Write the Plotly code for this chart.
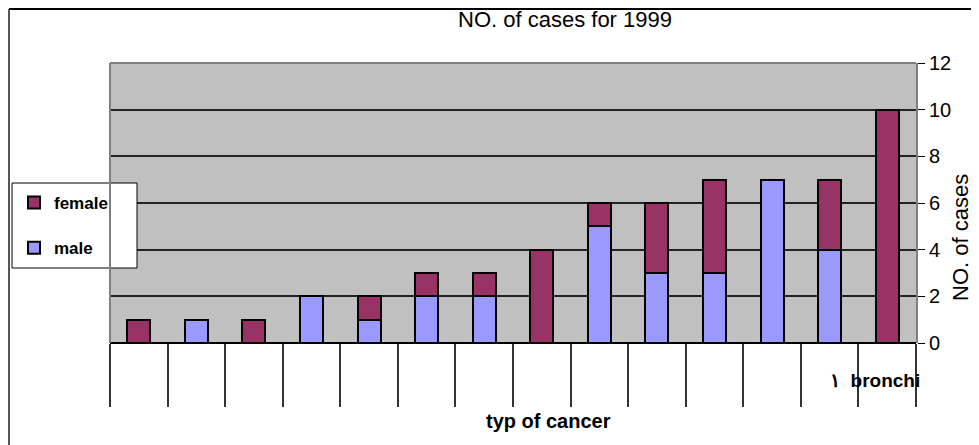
import plotly.graph_objects as go

# 14 cancer types; only the last label is visible in the source chart
categories = ["", "", "", "", "", "", "", "", "", "", "", "", "", "\u0661  bronchi"]
male = [0, 1, 0, 2, 1, 2, 2, 0, 5, 3, 3, 7, 4, 0]
female = [1, 0, 1, 0, 1, 1, 1, 4, 1, 3, 4, 0, 3, 10]
y_ticks = [0, 2, 4, 6, 8, 10, 12]

n = len(categories)
pos = list(range(n))

# the page body adds an 8px margin, so the figure is shrunk by that much
OFF = 8
W, H = 979 - OFF, 445 - OFF
# plot area in reference pixels (left, top, right, bottom)
L, T, R, B = 110, 63, 916, 343
pw, ph = R - L, B - T

def px_x(x):
    return (x - L) / pw

def px_y(y):
    return (B - y) / ph

bar_line = dict(color="black", width=2)

male_trace = go.Bar(
    x=pos, y=male, name="male",
    marker=dict(color="#9999FF", line=bar_line),
    width=0.4, legendgroup="m", legendrank=2,
)
female_trace = go.Bar(
    x=pos, y=female, name="female",
    marker=dict(color="#993366", line=bar_line),
    width=0.4, legendgroup="f", legendrank=1,
)

fig = go.Figure(data=[male_trace, female_trace])

shapes = [
    # legend box
    dict(type="rect", xref="paper", yref="paper",
         x0=px_x(12), x1=px_x(137), y0=px_y(268), y1=px_y(183),
         fillcolor="white", line=dict(color="black", width=1), layer="above"),
    # outer border (left and top)
    dict(type="line", xref="paper", yref="paper",
         x0=px_x(9), x1=px_x(9), y0=px_y(445), y1=px_y(9),
         line=dict(color="#555555", width=2)),
    dict(type="line", xref="paper", yref="paper",
         x0=px_x(9), x1=px_x(979), y0=px_y(9), y1=px_y(9),
         line=dict(color="black", width=2)),
    # plot area top / left border
    dict(type="line", xref="paper", yref="paper",
         x0=0, x1=1, y0=1, y1=1, line=dict(color="#808080", width=2)),
    dict(type="line", xref="paper", yref="paper",
         x0=0, x1=0, y0=0, y1=1, line=dict(color="#808080", width=2)),
]

annotations = [
    dict(text="NO. of cases", textangle=-90, xref="paper", yref="paper",
         x=px_x(960), y=px_y(238), xanchor="center", yanchor="middle",
         showarrow=False, font=dict(size=22, color="black")),
    dict(text="typ of cancer", xref="paper", yref="paper",
         x=px_x(548), y=px_y(421), xanchor="center", yanchor="middle",
         showarrow=False, font=dict(size=20, color="black", weight="bold")),
    dict(text=categories[-1], xref="paper", yref="paper",
         x=px_x(828), y=px_y(380), xanchor="left", yanchor="middle",
         showarrow=False, font=dict(size=19, color="black", weight="bold")),
]

fig.update_layout(
    width=W, height=H,
    margin=dict(l=L - OFF, r=979 - R, t=T - OFF, b=445 - B, autoexpand=False),
    barmode="stack",
    paper_bgcolor="white",
    plot_bgcolor="#C0C0C0",
    font=dict(family="Liberation Sans, Arial, sans-serif", color="black"),
    title=dict(text="NO. of cases for 1999", x=(565 - OFF) / W, xanchor="center",
               y=1 - (19 - OFF) / H, yanchor="middle", xref="container",
               font=dict(size=22, color="black")),
    showlegend=True,
    legend=dict(x=px_x(14), y=px_y(185), xanchor="left", yanchor="top",
                bgcolor="rgba(0,0,0,0)", borderwidth=0,
                traceorder="grouped",
                tracegroupgap=20, itemwidth=30,
                font=dict(size=17, color="black", weight="bold")),
    shapes=shapes,
    annotations=annotations,
    bargap=0.6,
)

fig.update_xaxes(
    range=[-0.5, n - 0.5],
    tickmode="array",
    tickvals=[p - 0.5 for p in pos] + [n - 0.5],
    ticktext=[""] * (n + 1),
    ticks="outside", ticklen=63, tickcolor="#333333", tickwidth=2,
    showgrid=False, zeroline=False, showline=False,
)

fig.update_yaxes(
    side="right",
    range=[0, 12],
    tickvals=y_ticks,
    ticks="outside", ticklen=7, tickcolor="black", tickwidth=1,
    showgrid=True, gridcolor="#222222", gridwidth=1.5,
    zeroline=True, zerolinecolor="black", zerolinewidth=2,
    showline=True, linecolor="#808080", linewidth=2,
    tickfont=dict(size=20, color="black"),
)

fig.write_html("out.html")
